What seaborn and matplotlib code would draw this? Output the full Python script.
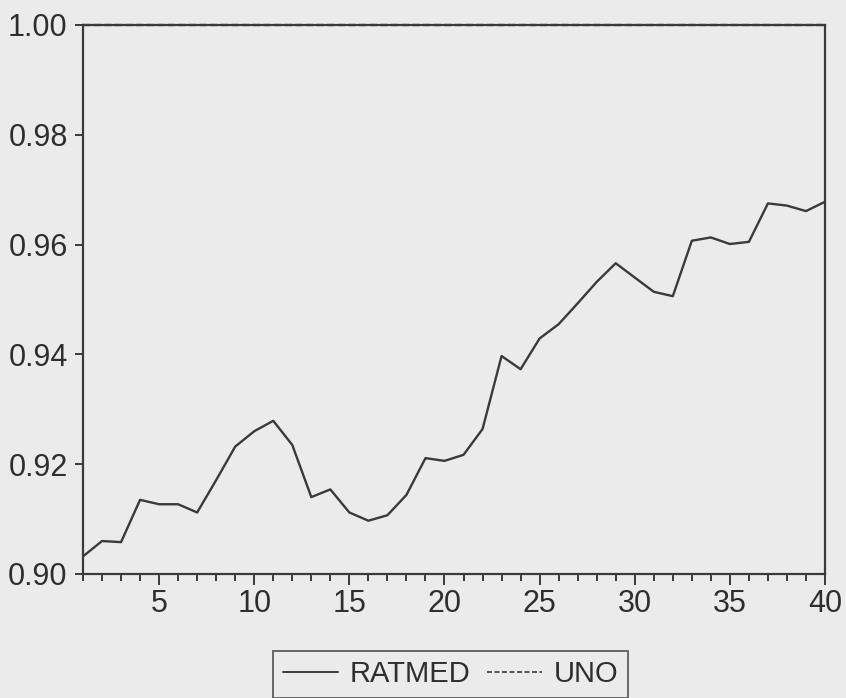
import numpy as np
import pandas as pd
import matplotlib
matplotlib.use("Agg")
import matplotlib.pyplot as plt
from matplotlib.ticker import MultipleLocator, FixedLocator
import seaborn as sns

# Observation index and series values
obs = list(range(1, 41))
ratmed = [0.9032, 0.9060, 0.9058, 0.9135, 0.9127, 0.9127, 0.9112, 0.9171, 0.9232, 0.9260,
          0.9279, 0.9235, 0.9140, 0.9154, 0.9112, 0.9097, 0.9107, 0.9144, 0.9211, 0.9206,
          0.9217, 0.9264, 0.9397, 0.9373, 0.9429, 0.9455, 0.9493, 0.9532, 0.9566, 0.9540,
          0.9514, 0.9506, 0.9607, 0.9613, 0.9601, 0.9605, 0.9675, 0.9671, 0.9661, 0.9678]
uno = [1.0] * 40
series_names = ["RATMED", "UNO"]
y_ticks = [0.90, 0.92, 0.94, 0.96, 0.98, 1.00]
x_major = [5, 10, 15, 20, 25, 30, 35, 40]

df = pd.DataFrame({
    "obs": obs * 2,
    "value": ratmed + uno,
    "series": [series_names[0]] * len(obs) + [series_names[1]] * len(obs),
})

sns.set_theme(style="ticks")
plt.rcParams["font.family"] = ["Liberation Sans", "DejaVu Sans"]

bg = "#ebebeb"
ink = "#3a3a3a"

fig = plt.figure(figsize=(8.46, 6.98), dpi=100, facecolor=bg)
ax = fig.add_axes([0.0981, 0.1777, 0.8771, 0.7865], facecolor=bg)

sns.lineplot(data=df, x="obs", y="value", hue="series", style="series",
             palette={"RATMED": ink, "UNO": ink},
             dashes={"RATMED": "", "UNO": (3, 1.5)},
             linewidth=1.7, ax=ax, legend=False, clip_on=False)

ax.set_xlim(1, 40)
ax.set_ylim(0.90, 1.00)
ax.set_xlabel("")
ax.set_ylabel("")

ax.xaxis.set_major_locator(FixedLocator(x_major))
ax.xaxis.set_minor_locator(MultipleLocator(1))
ax.yaxis.set_major_locator(FixedLocator(y_ticks))
ax.set_yticklabels([f"{v:.2f}" for v in y_ticks])

for side in ["left", "right", "top", "bottom"]:
    ax.spines[side].set_visible(True)
    ax.spines[side].set_color(ink)
    ax.spines[side].set_linewidth(1.6)

ax.tick_params(axis="both", which="major", direction="out", color=ink,
               labelcolor="#2e2e2e", labelsize=22, width=1.4)
ax.tick_params(axis="x", which="major", length=8, pad=3)
ax.tick_params(axis="x", which="minor", length=5, width=1.4, color=ink)
ax.tick_params(axis="y", which="major", length=6, pad=5)
ax.tick_params(top=False, right=False, which="both")

handles = [
    plt.Line2D([], [], color=ink, linewidth=1.4, linestyle="-"),
    plt.Line2D([], [], color=ink, linewidth=1.2, linestyle=(0, (3, 1.5))),
]
leg = fig.legend(handles, series_names, loc="center", bbox_to_anchor=(0.5325, 0.0337),
                 ncol=2, frameon=True, fancybox=False, fontsize=21,
                 handlelength=1.9, handletextpad=0.4, columnspacing=0.55,
                 borderpad=0.32, borderaxespad=0)
leg.get_frame().set_edgecolor(ink)
leg.get_frame().set_linewidth(1.3)
leg.get_frame().set_facecolor(bg)
for t in leg.get_texts():
    t.set_color("#2e2e2e")

fig.savefig("out.png", dpi=100, facecolor=bg)
